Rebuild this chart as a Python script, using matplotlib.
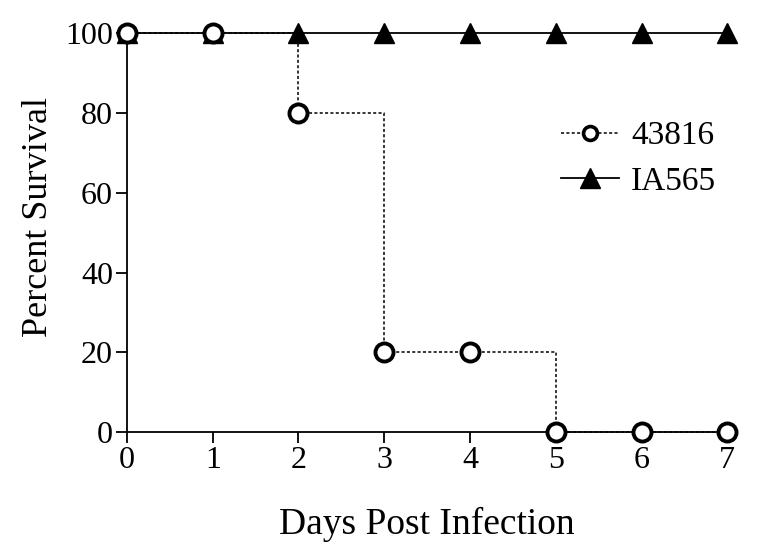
import matplotlib.pyplot as plt

plt.rcParams['font.family'] = ['Liberation Serif', 'DejaVu Serif']

days = [0, 1, 2, 3, 4, 5, 6, 7]
surv_43816 = [100, 100, 80, 20, 20, 0, 0, 0]
surv_ia565 = [100, 100, 100, 100, 100, 100, 100, 100]

fig = plt.figure(figsize=(7.6, 5.54), dpi=100)
ax = fig.add_axes([0.167, 0.22, 0.79, 0.72])

ax.plot(days, surv_ia565, color="k", linestyle="-", linewidth=1.3, marker="^",
        markersize=14, markerfacecolor="k", markeredgecolor="k",
        clip_on=False, zorder=3)
ax.plot(days, surv_43816, color="k", linestyle=(0, (2, 1.5)), linewidth=1.1,
        drawstyle="steps-post", clip_on=False, zorder=4)
ax.plot(days, surv_43816, linestyle="None", marker="o", markersize=13,
        markerfacecolor="white", markeredgecolor="k", markeredgewidth=2.8,
        clip_on=False, zorder=5)

# legend proxies
h1, = ax.plot([], [], color="k", linestyle=(0, (2, 1.5)), linewidth=1.1, marker="o",
              markersize=10, markerfacecolor="white", markeredgecolor="k",
              markeredgewidth=2.6)
h2, = ax.plot([], [], color="k", linestyle="-", linewidth=1.3, marker="^",
              markersize=14, markerfacecolor="k")
ax.legend([h1, h2], ["43816", "IA565"], loc="center left",
          bbox_to_anchor=(0.673, 0.685), frameon=False, fontsize=24,
          handlelength=1.75, handletextpad=0.35, labelspacing=0.45)

ax.set_xlim(0, 7)
ax.set_ylim(0, 100)
ax.set_xticks(days)
ax.set_yticks([0, 20, 40, 60, 80, 100])
ax.spines["top"].set_visible(False)
ax.spines["right"].set_visible(False)
ax.spines["left"].set_linewidth(1.3)
ax.spines["bottom"].set_linewidth(1.3)
ax.tick_params(axis="both", direction="out", length=8, width=1.3, labelsize=23, pad=2)
ax.set_xlabel("Days Post Infection", fontsize=27, labelpad=23)
ax.set_ylabel("Percent Survival", fontsize=26)
ax.yaxis.set_label_coords(-0.12, 0.54)

fig.savefig("out.png", dpi=100)
